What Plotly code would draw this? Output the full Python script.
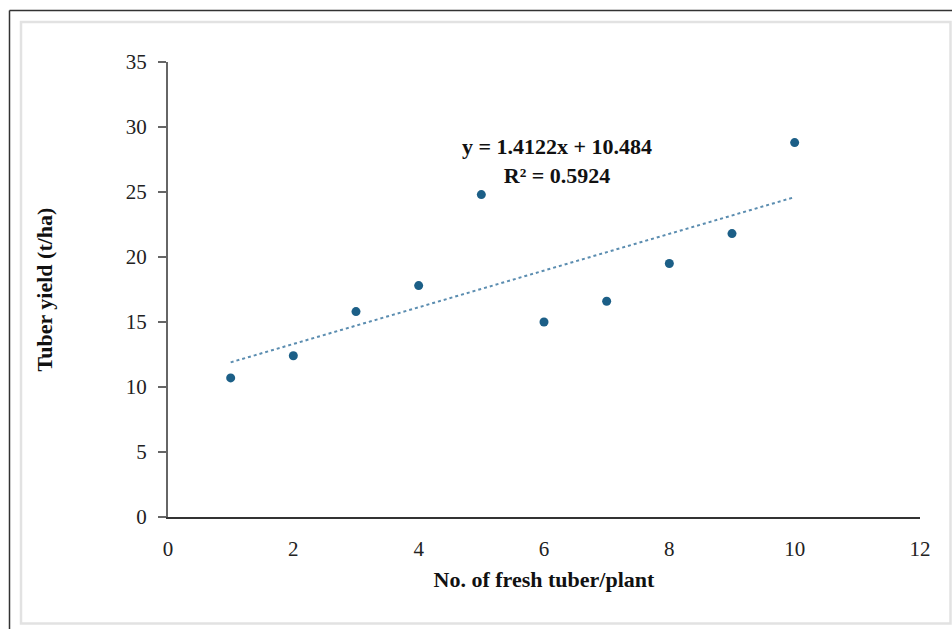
import plotly.graph_objects as go

# Data
tubers_per_plant = [1, 2, 3, 4, 5, 6, 7, 8, 9, 10]
tuber_yield = [10.7, 12.4, 15.8, 17.8, 24.8, 15.0, 16.6, 19.5, 21.8, 28.8]

# Linear trend (as printed on the chart)
slope = 1.4122
intercept = 10.484
trend_x = [1, 10]
trend_y = [slope * v + intercept for v in trend_x]
eq_text = "y = 1.4122x + 10.484<br>R² = 0.5924"

L, R, T, B = 168, 32, 62, 111.5
W, H = 952, 629
pw, ph = W - L - R, H - T - B

def px(x):
    return (x - L) / pw

def py(y):
    return (H - B - y) / ph

fig = go.Figure()
fig.add_trace(go.Scatter(
    x=trend_x, y=trend_y, mode="lines",
    line=dict(color="#5B8DB0", width=2, dash="dot"),
    hoverinfo="skip", showlegend=False,
))
fig.add_trace(go.Scatter(
    x=tubers_per_plant, y=tuber_yield, mode="markers",
    marker=dict(color="#1C5F87", size=9),
    showlegend=False,
))

serif = "Liberation Serif, Times New Roman, serif"

fig.update_layout(
    width=W, height=H,
    margin=dict(l=L, r=R, t=T, b=B),
    paper_bgcolor="white", plot_bgcolor="white",
    font=dict(family=serif, color="#222222", size=21),
    xaxis=dict(
        range=[0, 12], dtick=2, tick0=0, showgrid=False, zeroline=False,
        showline=True, linecolor="#333333", linewidth=2, ticks="",
        tickfont=dict(size=21, family=serif, color="#222222"),
        ticklabelstandoff=12,
        title=dict(text="<b>No. of fresh tuber/plant</b>",
                   font=dict(size=22, family=serif, color="#111111"), standoff=11),
    ),
    yaxis=dict(
        range=[0, 35], dtick=5, tick0=0, showgrid=False, zeroline=False,
        showline=True, linecolor="#666666", linewidth=2, ticks="outside",
        ticklen=8, tickcolor="#666666", tickwidth=2,
        tickfont=dict(size=21, family=serif, color="#222222"),
        ticklabelstandoff=7,
        title=dict(text="<b>Tuber yield (t/ha)</b>",
                   font=dict(size=22, family=serif, color="#111111"), standoff=67),
    ),
    annotations=[dict(
        x=px(557), y=py(161), xref="paper", yref="paper",
        text="<b>" + eq_text + "</b>", showarrow=False,
        font=dict(size=22, family=serif, color="#111111"),
        align="center", xanchor="center", yanchor="middle",
    )],
    shapes=[
        # outer dark frame (top and left)
        dict(type="line", xref="paper", yref="paper",
             x0=px(9.5), x1=px(960), y0=py(10.5), y1=py(10.5),
             line=dict(color="#333333", width=1.5)),
        dict(type="line", xref="paper", yref="paper",
             x0=px(9.5), x1=px(9.5), y0=py(10.5), y1=py(640),
             line=dict(color="#333333", width=1.5)),
        # inner light frame
        dict(type="rect", xref="paper", yref="paper",
             x0=px(21), x1=px(950.5), y0=py(22), y1=py(624),
             line=dict(color="#E2E2E2", width=2.5)),
    ],
)

fig.write_html(
    "out.html",
    config={"displayModeBar": False},
    post_script="document.body.style.margin='0';document.body.style.overflow='hidden';",
)
